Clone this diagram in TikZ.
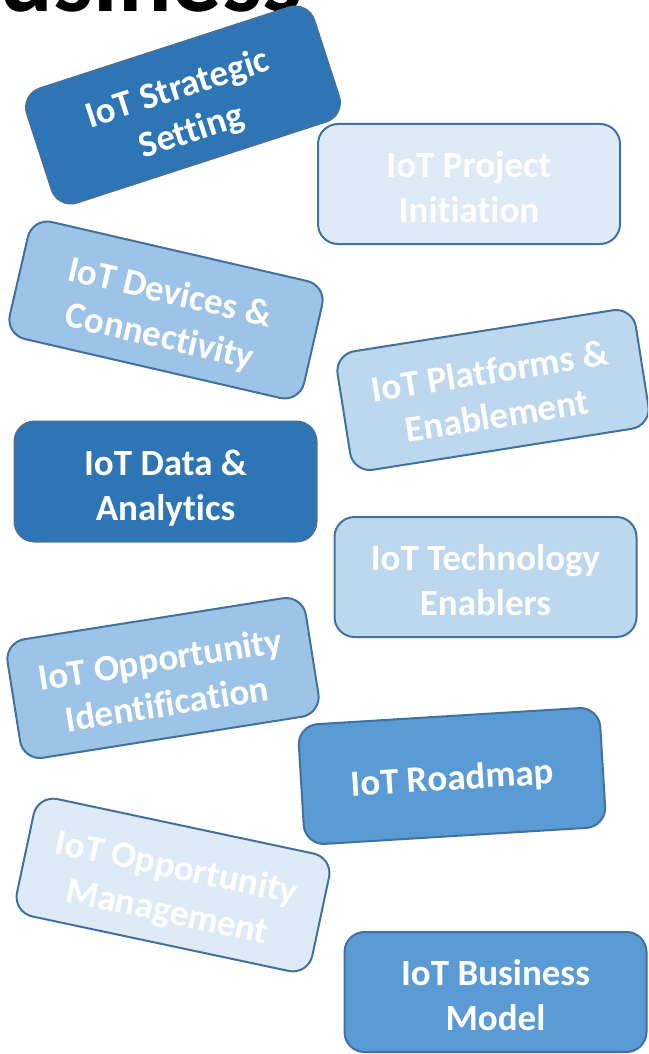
\documentclass[tikz,border=0pt]{standalone}
\usepackage{fontspec}
\setmainfont{Carlito}[Ligatures={NoCommon}]
\definecolor{cardline}{HTML}{41719C}
\definecolor{blueA}{HTML}{2E75B6}
\definecolor{blueB}{HTML}{5B9BD5}
\definecolor{blueC}{HTML}{9DC3E6}
\definecolor{blueD}{HTML}{BDD7EE}
\definecolor{blueE}{HTML}{DEEBF7}
\begin{document}
\begin{tikzpicture}[x=1pt,y=1pt,
  card/.style={draw=cardline, line width=2pt, rounded corners=20pt,
    minimum width=302pt, minimum height=120pt, align=center, text=white,
    inner sep=0pt, font=\bfseries\fontsize{37}{45}\selectfont},
  twoline/.style={text height=85pt, text depth=8pt},
  oneline/.style={text height=36pt, text depth=8pt}]
\useasboundingbox (0,0) rectangle (648,-1054);
\clip (0,0) rectangle (648,-1054);

% title, mostly above the page edge
\node[anchor=base east, inner sep=0pt, font=\bfseries\fontsize{100}{100}\selectfont] (title) at (302,-12) {Business};

\node[card, twoline, fill=blueA, rotate=18] (strategic) at (183,-105) {IoT Strategic\\Setting};
\node[card, twoline, fill=blueE] (project) at (469,-184) {IoT Project\\Initiation};
\node[card, twoline, fill=blueC, rotate=-13] (devices) at (166,-310) {IoT Devices \&\\Connectivity};
\node[card, twoline, fill=blueD, rotate=9] (platforms) at (493,-390) {IoT Platforms \&\\Enablement};
\node[card, twoline, fill=blueA] (data) at (165.5,-481.5) {IoT Data \&\\Analytics};
\node[card, twoline, fill=blueD] (tech) at (485.5,-577) {IoT Technology\\Enablers};
\node[card, twoline, fill=blueC, rotate=9] (oppid) at (163,-678) {IoT Opportunity\\Identification};
\node[card, oneline, fill=blueB, rotate=3.5] (roadmap) at (452,-776) {IoT Roadmap};
\node[card, twoline, fill=blueE, rotate=-12] (oppman) at (173,-885) {IoT Opportunity\\Management};
\node[card, twoline, fill=blueB] (bizmodel) at (495.5,-992) {IoT Business\\Model};
\end{tikzpicture}
\end{document}
